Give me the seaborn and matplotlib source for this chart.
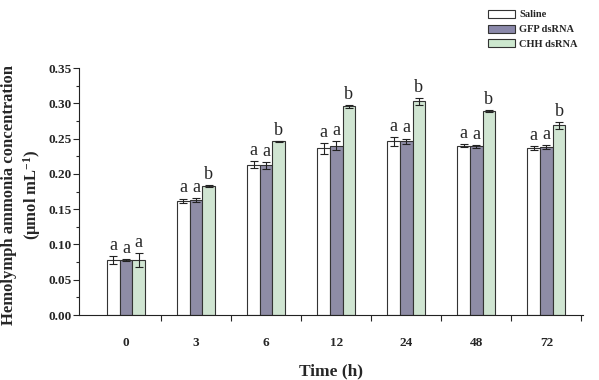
import numpy as np
import pandas as pd
import matplotlib
matplotlib.use('Agg')
import matplotlib.pyplot as plt
import seaborn as sns
from matplotlib.patches import Patch
from matplotlib.ticker import MultipleLocator, FixedLocator

times = ['0', '3', '6', '12', '24', '48', '72']
groups = ['Saline', 'GFP dsRNA', 'CHH dsRNA']
saline = [0.078, 0.162, 0.213, 0.236, 0.246, 0.240, 0.237]
gfp = [0.078, 0.163, 0.212, 0.240, 0.246, 0.239, 0.238]
chh = [0.078, 0.183, 0.246, 0.296, 0.303, 0.289, 0.269]
saline_err = [0.006, 0.003, 0.005, 0.008, 0.006, 0.002, 0.003]
gfp_err = [0.001, 0.003, 0.005, 0.006, 0.004, 0.002, 0.003]
chh_err = [0.010, 0.001, 0.001, 0.002, 0.005, 0.002, 0.005]
saline_lab = ['a'] * 7
gfp_lab = ['a'] * 7
chh_lab = ['a', 'b', 'b', 'b', 'b', 'b', 'b']

colors = ['#FFFFFF', '#8A88AA', '#CDE8CF']

df = pd.DataFrame({
    'time': times * 3,
    'value': saline + gfp + chh,
    'group': [g for g in groups for _ in times],
})

sns.set_style('ticks')
plt.rcParams['font.family'] = ['Liberation Serif', 'DejaVu Serif']
plt.rcParams['mathtext.fontset'] = 'custom'
plt.rcParams['mathtext.rm'] = 'Liberation Serif:bold'
plt.rcParams['mathtext.bf'] = 'Liberation Serif:bold'
plt.rcParams['mathtext.it'] = 'Liberation Serif:bold'

fig = plt.figure(figsize=(5.99, 3.8), dpi=100)
ax = fig.add_axes([0.132, 0.171, 0.841, 0.650])

sns.barplot(data=df, x='time', y='value', hue='group', order=times,
            hue_order=groups, palette=colors, errorbar=None, width=0.54,
            edgecolor='#333333', linewidth=0.8, legend=False, ax=ax)

errs = [saline_err, gfp_err, chh_err]
vals = [saline, gfp, chh]
labs = [saline_lab, gfp_lab, chh_lab]
bar_groups = list(ax.containers)
for gi, cont in enumerate(bar_groups):
    for ti, bar in enumerate(cont.patches):
        xc = bar.get_x() + bar.get_width() / 2
        ax.errorbar(xc, vals[gi][ti], yerr=errs[gi][ti], fmt='none',
                    ecolor='#222222', elinewidth=0.8, capsize=3, capthick=0.8)
        ax.text(xc, vals[gi][ti] + errs[gi][ti] + 0.003, labs[gi][ti],
                ha='center', va='bottom', fontsize=13)

ax.set_xlim(-0.67, 6.52)
ax.set_ylim(0, 0.35)
ax.yaxis.set_minor_locator(MultipleLocator(0.025))
ax.set_yticks(np.arange(0, 0.351, 0.05))
ax.set_yticklabels([f'{v:.2f}' for v in np.arange(0, 0.351, 0.05)])
ax.xaxis.set_minor_locator(FixedLocator(np.arange(len(times)) + 0.5))
ax.tick_params(axis='x', which='major', length=0, pad=16)
ax.tick_params(axis='x', which='minor', length=4, width=0.8, direction='out')
ax.tick_params(axis='y', which='major', length=4, width=0.8, direction='out', pad=1.5)
ax.tick_params(axis='y', which='minor', length=2, width=0.8, direction='out')
for lbl in ax.get_xticklabels() + ax.get_yticklabels():
    lbl.set_fontweight('bold')
    lbl.set_fontsize(9.5)
sns.despine(ax=ax)
for s in ['left', 'bottom']:
    ax.spines[s].set_linewidth(0.8)
    ax.spines[s].set_color('#222222')

ax.set_xlabel('Time (h)', fontsize=12.5, fontweight='bold')
ax.xaxis.set_label_coords(0.5, -0.195)
ax.set_ylabel('Hemolymph ammonia concentration\n(μmol mL$^{-1}$)',
              fontsize=12, fontweight='bold', linespacing=1.3,
              va='center', ha='center')
ax.yaxis.set_label_coords(-0.113, 0.486)

handles = [Patch(facecolor=c, edgecolor='#333333', linewidth=0.8, label=g)
           for c, g in zip(colors, groups)]
leg = fig.legend(handles=handles, loc='upper left', bbox_to_anchor=(0.808, 0.985),
                 frameon=False, prop={'weight': 'bold', 'size': 7.5},
                 handlelength=2.6, handleheight=0.8, labelspacing=0.5,
                 handletextpad=0.4, borderaxespad=0)

fig.savefig('out.png', dpi=100)
